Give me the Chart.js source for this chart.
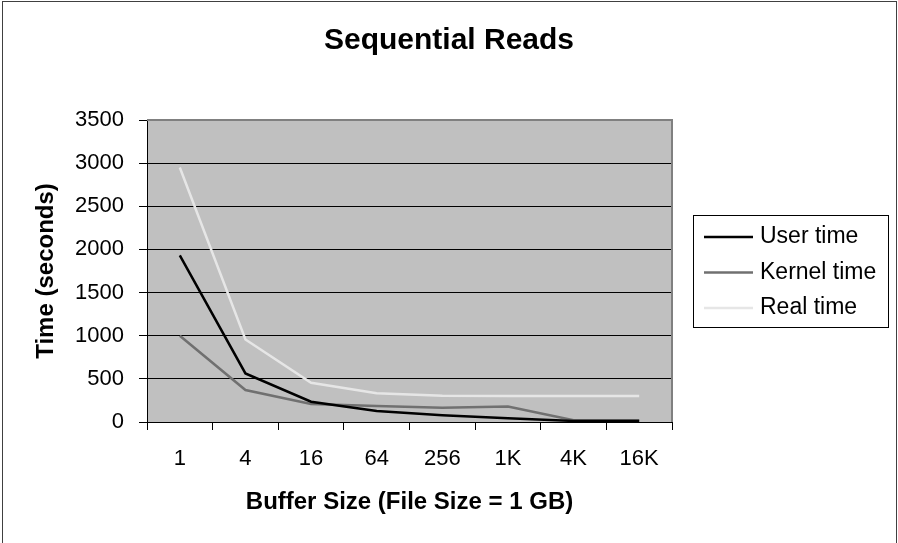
<!DOCTYPE html>
<html>
<head>
<meta charset="utf-8">
<title>Sequential Reads</title>
<script src="https://cdn.jsdelivr.net/npm/chart.js@4/dist/chart.umd.min.js"></script>
<style>
  body { margin: 0; background: #fff; }
  canvas { display: block; }
</style>
</head>
<body>
<canvas id="readsChart" width="898" height="543"></canvas>
<script>
// Data
const bufferSizes = ["1", "4", "16", "64", "256", "1K", "4K", "16K"];
const userTime = [1930, 563, 235, 127, 77, 43, 12, 12];
const kernelTime = [1000, 370, 208, 185, 165, 180, 20, 20];
const realTime = [2950, 957, 455, 332, 304, 300, 300, 300];
const yTicks = [0, 500, 1000, 1500, 2000, 2500, 3000, 3500];

const FONT = "'Liberation Sans', Arial, sans-serif";

// Grey plot background, outer frame and boxed legend
const excelLook = {
  id: "excelLook",
  beforeDraw(chart) {
    const { ctx, chartArea: a } = chart;
    ctx.save();
    ctx.fillStyle = "#fff";
    ctx.fillRect(0, 0, chart.width, chart.height);
    ctx.strokeStyle = "#404040";
    ctx.lineWidth = 1;
    ctx.strokeRect(2.5, 1.5, 894, 560);
    ctx.fillStyle = "#c0c0c0";
    ctx.fillRect(a.left, a.top, a.right - a.left, a.bottom - a.top);
    ctx.restore();
  },
  beforeDatasetsDraw(chart) {
    const { ctx, chartArea: a } = chart;
    ctx.save();
    ctx.strokeStyle = "#808080";
    ctx.lineWidth = 2;
    ctx.beginPath();
    ctx.moveTo(a.left, a.top);
    ctx.lineTo(a.right, a.top);
    ctx.lineTo(a.right, a.bottom);
    ctx.stroke();
    ctx.restore();
  },
  afterDraw(chart) {
    const { ctx, chartArea: a } = chart;
    const left = a.right + 21;
    const top = 215;
    ctx.save();
    ctx.strokeStyle = "#000";
    ctx.lineWidth = 1;
    ctx.strokeRect(left + 0.5, top + 0.5, 195, 112);
    ctx.font = "23px " + FONT;
    ctx.textBaseline = "middle";
    chart.data.datasets.forEach((ds, i) => {
      const y = top + 22 + i * 35.5;
      ctx.strokeStyle = ds.borderColor;
      ctx.lineWidth = ds.borderWidth;
      ctx.beginPath();
      ctx.moveTo(left + 11, y);
      ctx.lineTo(left + 60, y);
      ctx.stroke();
      ctx.fillStyle = "#000";
      ctx.fillText(ds.label, left + 67, y);
    });
    ctx.restore();
  },
};

const ctx = document.getElementById("readsChart").getContext("2d");
new Chart(ctx, {
  type: "line",
  data: {
    labels: bufferSizes,
    datasets: [
      { label: "User time", data: userTime, borderColor: "#000000", borderWidth: 2.5 },
      { label: "Kernel time", data: kernelTime, borderColor: "#707070", borderWidth: 2.5 },
      { label: "Real time", data: realTime, borderColor: "#e6e6e6", borderWidth: 2.5 },
    ],
  },
  options: {
    responsive: false,
    animation: false,
    layout: { padding: 0 },
    elements: {
      point: { radius: 0 },
      line: { tension: 0, fill: false },
    },
    plugins: {
      legend: { display: false },
      tooltip: { enabled: false },
      title: {
        display: true,
        text: "Sequential Reads",
        color: "#000",
        font: { family: FONT, size: 30, weight: "bold" },
        padding: { top: 23, bottom: 61 },
      },
    },
    scales: {
      x: {
        offset: true,
        afterFit: (scale) => { scale.height = 121; },
        grid: {
          offset: true,
          drawOnChartArea: false,
          tickLength: 8,
          color: "#000",
        },
        border: { color: "#000", width: 1 },
        ticks: {
          color: "#000",
          padding: 16,
          maxRotation: 0,
          font: { family: FONT, size: 22 },
        },
        title: {
          display: true,
          text: "Buffer Size (File Size = 1 GB)",
          color: "#000",
          font: { family: FONT, size: 24, weight: "bold" },
          padding: { top: 0, bottom: 26 },
        },
      },
      y: {
        min: 0,
        max: 3500,
        afterFit: (scale) => { scale.width = 147; },
        afterBuildTicks: (scale) => { scale.ticks = yTicks.map((v) => ({ value: v })); },
        grid: {
          color: (c) => (c.tick && c.tick.value === 3500 ? "#808080" : "#000"),
          tickColor: "#000",
          tickLength: 8,
        },
        border: { color: "#000", width: 1 },
        ticks: {
          color: "#000",
          padding: 15,
          font: { family: FONT, size: 22 },
          callback: (v) => String(v),
        },
        title: {
          display: true,
          text: "Time (seconds)",
          color: "#000",
          font: { family: FONT, size: 24, weight: "bold" },
          padding: { top: 32, bottom: 0 },
        },
      },
      // empty right-hand box that reserves room for the legend
      legendSpace: {
        position: "right",
        afterFit: (scale) => { scale.width = 226; },
        grid: { display: false, drawTicks: false },
        border: { display: false },
        ticks: { display: false },
      },
    },
  },
  plugins: [excelLook],
});
</script>
</body>
</html>
